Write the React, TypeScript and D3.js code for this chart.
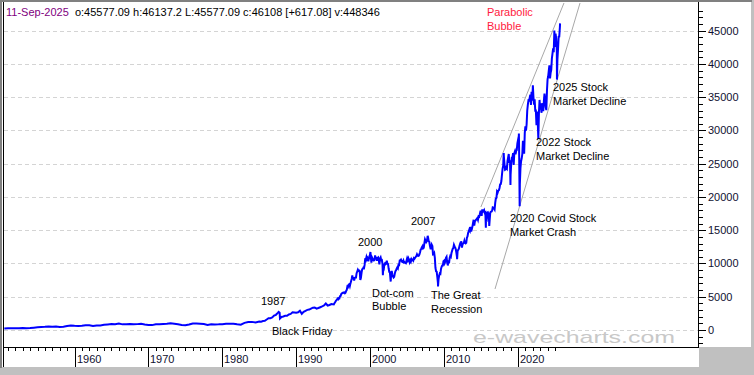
import React, { useEffect, useRef } from 'react'
import * as d3 from 'd3'

// DJIA, half-year closes from mid 1950 to mid 1984
const earlyStart = 1950.5
const early = [
  209, 249, 257, 270, 280, 290, 275, 292, 347, 409, 466, 471, 518, 479, 509, 450, 503, 594, 675,
  622, 617, 648, 705, 700, 597, 683, 695, 785, 841, 903, 882, 983, 847, 850, 904, 856, 883, 946, 815,
  744, 734, 869, 858, 902, 924, 999, 926, 855, 757, 703, 831, 975, 985, 954, 890, 770, 862, 839, 846,
  876, 935, 947, 952, 871, 808, 1075, 1199, 1220, 1115,
]
// quarterly 1985 - 1994
const midStart = 1985
const mid = [
  1277, 1258, 1347, 1374, 1571, 1783, 1775, 1878, 2158, 2286, 2572, 2596,
  1958, 2032, 2129, 2149, 2342, 2419, 2661, 2645, 2591, 2657, 2905, 2442,
  2736, 2888, 3024, 3069, 3223, 3359, 3394, 3226, 3310, 3427, 3539, 3681,
  3978, 3681, 3765, 3908,
]
// month-end closes Jan 1995 - Aug 2025
const lateStart = 1995
const late = [
  3844, 4011, 4158, 4321, 4465, 4556, 4709, 4611, 4789, 4756, 5075, 5117,
  5395, 5486, 5587, 5569, 5643, 5655, 5529, 5616, 5882, 6029, 6522, 6448,
  6813, 6878, 6584, 7009, 7331, 7673, 8223, 7622, 7945, 7442, 7823, 7908,
  7907, 8546, 8800, 9063, 8900, 8952, 8883, 7539, 7843, 8592, 9117, 9181,
  9359, 9307, 9786, 10789, 10560, 10971, 10655, 10829, 10337, 10730, 10878, 11497,
  10941, 10128, 10922, 10734, 10522, 10448, 10522, 11215, 10651, 10971, 10415, 10787,
  10887, 10495, 9879, 10735, 10912, 10502, 10523, 9950, 8848, 9075, 9852, 10022,
  9920, 10106, 10404, 9946, 9925, 9243, 8737, 8664, 7592, 8397, 8896, 8342,
  8054, 7891, 7992, 8480, 8850, 8985, 9234, 9416, 9275, 9801, 9782, 10454,
  10488, 10584, 10358, 10226, 10188, 10435, 10140, 10174, 10080, 10027, 10428, 10783,
  10490, 10766, 10504, 10193, 10467, 10275, 10641, 10482, 10569, 10440, 10806, 10718,
  10865, 10993, 11109, 11367, 11168, 11150, 11186, 11381, 11679, 12081, 12221, 12463,
  12622, 12269, 12354, 13063, 13628, 13409, 13212, 13358, 13896, 13930, 13372, 13265,
  12650, 12266, 12263, 12820, 12638, 11350, 11378, 11544, 10851, 9325, 8829, 8776,
  8001, 7063, 7609, 8168, 8500, 8447, 9172, 9496, 9712, 9713, 10345, 10428,
  10067, 10325, 10857, 11009, 10137, 9774, 10466, 10015, 10788, 11118, 11006, 11578,
  11892, 12226, 12320, 12811, 12570, 12414, 12143, 11614, 10913, 11955, 12046, 12218,
  12633, 12952, 13212, 13214, 12393, 12880, 13009, 13091, 13437, 13096, 13026, 13104,
  13861, 14054, 14579, 14840, 15116, 14910, 15500, 14810, 15130, 15546, 16086, 16577,
  15699, 16322, 16458, 16581, 16717, 16827, 16563, 17098, 17043, 17391, 17828, 17823,
  17165, 18133, 17776, 17841, 18011, 17620, 17690, 16528, 16285, 17664, 17720, 17425,
  16466, 16517, 17685, 17774, 17787, 17930, 18432, 18401, 18308, 18142, 19124, 19763,
  19864, 20812, 20663, 20941, 21009, 21350, 21891, 21948, 22405, 23377, 24272, 24719,
  26149, 25029, 24103, 24163, 24416, 24271, 25415, 25965, 26458, 25116, 25538, 23327,
  24999, 25916, 25929, 26593, 24815, 26600, 26864, 26403, 26917, 27046, 28051, 28538,
  28256, 25409, 21917, 24346, 25383, 25813, 26428, 28430, 27782, 26502, 29639, 30606,
  29983, 30932, 32981, 33875, 34529, 34503, 34935, 35361, 33844, 35820, 34484, 36338,
  35132, 33893, 34678, 32977, 32990, 30775, 32845, 31510, 28726, 32733, 34590, 33147,
  34086, 32657, 33274, 34098, 32908, 34408, 35560, 34722, 33508, 33053, 35951, 37690,
  38150, 38996, 39807, 37816, 38686, 39119, 40843, 41563, 42330, 41763, 44911, 42544,
  44545, 43841, 42002, 40669, 42270, 44095, 44131, 45545,
]
// intra-period highs and lows
const extremeYears = [1987.62, 1987.8, 2000.04, 2001.72, 2002.78, 2007.78, 2009.18, 2010.5, 2011.76, 2015.65, 2016.11, 2018.07, 2018.98, 2020.12, 2020.225, 2022.01, 2024.92, 2025.27, 2025.69]
const extremeValues = [2722, 1739, 11723, 8236, 7286, 14165, 6547, 9686, 10655, 15370, 15660, 26617, 21792, 29551, 18592, 36800, 45014, 37645, 46108]

// channel lines [year, value]
const upperChannel = [[2014.98, 18494], [2026.22, 49165]]
const lowerChannel = [[2016.89, 6165], [2028.39, 49165]]

const yTickValues = [0, 5000, 10000, 15000, 20000, 25000, 30000, 35000, 40000, 45000]
const xTickYears = [1960, 1970, 1980, 1990, 2000, 2010, 2020]

const notes = [
  { lines: ['Parabolic', 'Bubble'], x: 487, y: 16, gap: 14, color: '#ff1a40' },
  { lines: ['2025 Stock', 'Market Decline'], x: 553, y: 91, gap: 14, color: '#000' },
  { lines: ['2022 Stock', 'Market Decline'], x: 536, y: 146, gap: 14, color: '#000' },
  { lines: ['2020 Covid Stock', 'Market Crash'], x: 510, y: 222, gap: 14, color: '#000' },
  { lines: ['2007'], x: 411, y: 225, gap: 14, color: '#000' },
  { lines: ['2000'], x: 358, y: 246, gap: 14, color: '#000' },
  { lines: ['Dot-com', 'Bubble'], x: 372, y: 297, gap: 12.5, color: '#000' },
  { lines: ['The Great', 'Recession'], x: 431, y: 299, gap: 14, color: '#000' },
  { lines: ['1987'], x: 261, y: 305, gap: 14, color: '#000' },
  { lines: ['Black Friday'], x: 272, y: 335, gap: 14, color: '#000' },
]

const FONT = "'Liberation Sans', Arial, sans-serif"

const App = () => {
  const ref = useRef<SVGSVGElement>(null)

  useEffect(() => {
    const svg = d3.select(ref.current)
    svg.selectAll('*').remove()

    const left = 3, right = 698, top = 3, bottom = 347, axisBottom = 367

    const x = d3.scaleLinear().domain([1960, 2020]).range([74.5, 518])
    const y = d3.scaleLinear().domain([0, 45000]).range([330, 30.7])

    // frame
    svg.append('rect').attr('width', 754).attr('height', 375).attr('fill', '#c0c0c0')
    svg.append('rect').attr('x', 2).attr('y', 2).attr('width', right - 1).attr('height', axisBottom - 2).attr('fill', '#fff')
    svg.append('rect').attr('x', right).attr('y', 2).attr('width', 53).attr('height', bottom - 2).attr('fill', '#fff')
    svg.append('rect').attr('x', 0).attr('y', 0).attr('width', 752).attr('height', 2).attr('fill', '#808080')
    svg.append('rect').attr('x', 0).attr('y', 0).attr('width', 2).attr('height', axisBottom + 1).attr('fill', '#808080')

    // grid
    svg.append('g').selectAll('line').data(yTickValues).join('line')
      .attr('x1', left + 1).attr('x2', right)
      .attr('y1', d => Math.round(y(d)) + 0.5).attr('y2', d => Math.round(y(d)) + 0.5)
      .attr('stroke', '#d4d4d4').attr('stroke-dasharray', '4,3')

    // watermark
    svg.append('text').attr('x', 473).attr('y', 343)
      .attr('font-family', FONT).attr('font-size', 17)
      .attr('textLength', 202).attr('lengthAdjust', 'spacingAndGlyphs')
      .attr('fill', '#c8c8c8').text('e-wavecharts.com')

    // data
    const pts: [number, number][] = []
    early.forEach((v, i) => pts.push([earlyStart + i * 0.5, v]))
    mid.forEach((v, i) => pts.push([midStart + i * 0.25, v]))
    late.forEach((v, i) => pts.push([lateStart + (i + 1) / 12, v]))
    extremeYears.forEach((t, i) => pts.push([t, extremeValues[i]]))
    pts.sort((a, b) => a[0] - b[0])

    svg.append('clipPath').attr('id', 'plotclip').append('rect')
      .attr('x', left + 1).attr('y', top).attr('width', right - left - 1).attr('height', bottom - top)

    const plot = svg.append('g').attr('clip-path', 'url(#plotclip)')
    const line = d3.line<number[]>().x(d => x(d[0])).y(d => y(d[1]))

    ;[upperChannel, lowerChannel].forEach(c => {
      plot.append('path').attr('d', line(c)).attr('fill', 'none')
        .attr('stroke', '#a8a8a8').attr('stroke-width', 1)
    })

    plot.append('path').datum(pts).attr('d', line)
      .attr('fill', 'none').attr('stroke', '#0000ff').attr('stroke-width', 2)
      .attr('stroke-linejoin', 'miter')

    // borders
    svg.append('line').attr('x1', 3.5).attr('x2', 3.5).attr('y1', 2).attr('y2', axisBottom).attr('stroke', '#000')
    svg.append('line').attr('x1', 3).attr('x2', right + 1).attr('y1', bottom + 0.5).attr('y2', bottom + 0.5).attr('stroke', '#000')
    svg.append('line').attr('x1', right + 0.5).attr('x2', right + 0.5).attr('y1', 2).attr('y2', bottom + 1).attr('stroke', '#000')

    // y axis ticks
    const yMinor = d3.range(-2000, 49001, 1000).filter(v => y(v) > top + 2 && y(v) < bottom - 1)
    svg.append('g').selectAll('line').data(yMinor).join('line')
      .attr('x1', right).attr('x2', d => right + (d % 5000 === 0 ? 8 : 5))
      .attr('y1', d => Math.round(y(d)) + 0.5).attr('y2', d => Math.round(y(d)) + 0.5)
      .attr('stroke', '#000')
    svg.append('g').selectAll('text').data(yTickValues).join('text')
      .attr('x', 708).attr('y', d => y(d) + 4)
      .attr('font-family', FONT).attr('font-size', 11).attr('fill', '#101030')
      .text(d => String(d))

    // x axis ticks
    const years = d3.range(1951, 2026)
    svg.append('g').selectAll('line').data(years).join('line')
      .attr('x1', d => Math.round(x(d)) + 0.5).attr('x2', d => Math.round(x(d)) + 0.5)
      .attr('y1', bottom).attr('y2', d => (d % 10 === 0 ? axisBottom : bottom + 4))
      .attr('stroke', '#000')
    svg.append('g').selectAll('text').data(xTickYears).join('text')
      .attr('x', d => Math.round(x(d)) + 2).attr('y', 363)
      .attr('font-family', FONT).attr('font-size', 11).attr('fill', '#101030')
      .text(d => String(d))

    // header
    const head = svg.append('text').attr('x', 6).attr('y', 16)
      .attr('font-family', FONT).attr('font-size', 11).attr('fill', '#000')
    head.append('tspan').attr('fill', '#800080').text('11-Sep-2025')
    head.append('tspan').attr('xml:space', 'preserve')
      .text('\u00a0\u00a0o:45577.09 h:46137.2 L:45577.09 c:46108 [+617.08] v:448346')

    // annotations
    notes.forEach(n => {
      n.lines.forEach((t, i) => {
        svg.append('text').attr('x', n.x).attr('y', n.y + i * n.gap)
          .attr('font-family', FONT).attr('font-size', 11).attr('fill', n.color).text(t)
      })
    })
  }, [])

  return <svg ref={ref} width={754} height={375} style={{ position: 'absolute', left: 0, top: 0 }} />
}

export default App
